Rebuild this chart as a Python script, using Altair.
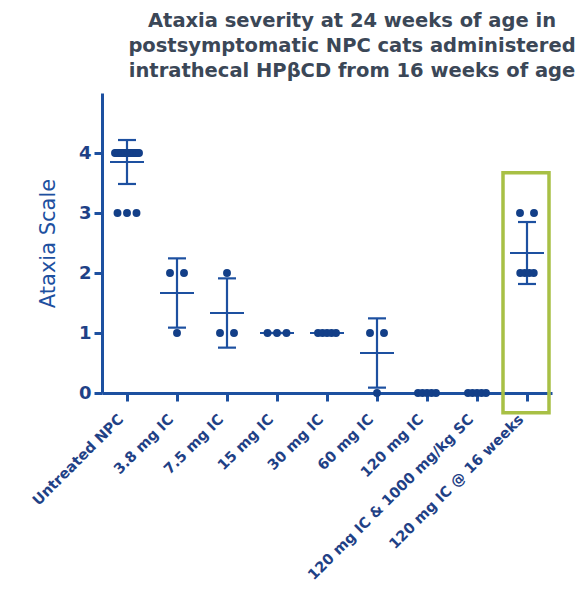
import altair as alt
import numpy as np
import pandas as pd

# Treatment groups (x axis, in order)
groups = [
    "Untreated NPC",
    "3.8 mg IC",
    "7.5 mg IC",
    "15 mg IC",
    "30 mg IC",
    "60 mg IC",
    "120 mg IC",
    "120 mg IC & 1000 mg/kg SC",
    "120 mg IC @ 16 weeks",
]

# Individual ataxia scores per cat, one list per group
scores = [
    [4] * 17 + [3] * 3,
    [2, 2, 1],
    [2, 1, 1],
    [1, 1, 1],
    [1, 1, 1, 1, 1],
    [1, 1, 0],
    [0, 0, 0, 0, 0],
    [0, 0, 0, 0, 0],
    [3, 3, 2, 2, 2, 2],
]

highlight_group = "120 mg IC @ 16 weeks"

BLUE = "#1d50a0"
LABEL = "#1f4186"
DOT = "#133f88"
GREEN = "#a8c045"
TITLE = "#3b4757"
FONT = "DejaVu Sans"

PX_PER_UNIT = 50.0  # plot width / number of groups


def spread(k):
    """Horizontal spread (px) of k coincident dots."""
    if k <= 1:
        return 0.0
    if k == 2:
        return 14.0
    if k == 3:
        return 19.0
    return min(4.5 * (k - 1), 24.0)


# Dots, spread sideways where scores coincide
dot_rows = []
for i, (g, vals) in enumerate(zip(groups, scores)):
    for v in sorted(set(vals), reverse=True):
        k = vals.count(v)
        w = spread(k)
        offs = np.linspace(-w / 2, w / 2, k) if k > 1 else [0.0]
        for o in offs:
            dot_rows.append({"group": g, "pos": i + o / PX_PER_UNIT, "score": v})
dots = pd.DataFrame(dot_rows)

# Mean and SD per group
stat_rows = []
for i, (g, vals) in enumerate(zip(groups, scores)):
    a = np.array(vals, dtype=float)
    m = a.mean()
    sd = a.std(ddof=1)
    stat_rows.append({
        "group": g, "idx": i, "mean": m, "lo": m - sd, "hi": m + sd,
        "m_l": i - 0.34, "m_r": i + 0.34, "c_l": i - 0.18, "c_r": i + 0.18,
    })
stats = pd.DataFrame(stat_rows)

hi_idx = groups.index(highlight_group)
box = pd.DataFrame([{"x1": hi_idx - 0.48, "x2": hi_idx + 0.44, "y1": -0.33, "y2": 3.67}])

label_expr = "[" + ",".join("'" + g.replace("'", "\\'") + "'" for g in groups) + "][datum.value]"

x_scale = alt.Scale(domain=[-0.5, len(groups) - 0.5], nice=False, zero=False)
y_scale = alt.Scale(domain=[0, 5], nice=False)

x_axis = alt.Axis(
    values=list(range(len(groups))),
    labelExpr=label_expr,
    labelAngle=-45,
    labelAlign="right",
    labelBaseline="middle",
    labelFont=FONT,
    labelFontWeight="bold",
    labelFontSize=14.5,
    labelColor=LABEL,
    labelPadding=16,
    labelOffset=-6,
    labelOverlap=False,
    labelBound=False,
    labelFlush=False,
    labelLimit=0,
    domainColor=BLUE,
    domainWidth=3,
    tickColor=BLUE,
    tickWidth=3,
    tickSize=8,
    grid=False,
    title=None,
)

y_axis = alt.Axis(
    values=[0, 1, 2, 3, 4],
    format="d",
    labelFont=FONT,
    labelFontWeight="bold",
    labelFontSize=18,
    labelColor=LABEL,
    labelPadding=3,
    domainColor=BLUE,
    domainWidth=3,
    tickColor=BLUE,
    tickWidth=3,
    tickSize=8,
    grid=False,
    title="Ataxia Scale",
    titleFont=FONT,
    titleFontSize=21,
    titleFontWeight="normal",
    titleColor=BLUE,
    titleX=-54,
    titleY=150,
    titleAngle=-90,
    titleAlign="center",
    titleBaseline="middle",
)

base_axes = alt.Chart(dots).mark_point(opacity=0).encode(
    x=alt.X("pos:Q", scale=x_scale, axis=x_axis),
    y=alt.Y("score:Q", scale=y_scale, axis=y_axis),
)

highlight = alt.Chart(box).mark_rect(
    fill=None, fillOpacity=0, stroke=GREEN, strokeWidth=3.5
).encode(
    x=alt.X("x1:Q", scale=x_scale), x2="x2:Q",
    y=alt.Y("y1:Q", scale=y_scale), y2="y2:Q",
)

sd_bar = alt.Chart(stats).mark_rule(color=BLUE, strokeWidth=2.2).encode(
    x=alt.X("idx:Q", scale=x_scale),
    y=alt.Y("lo:Q", scale=y_scale), y2="hi:Q",
)
cap_hi = alt.Chart(stats).mark_rule(color=BLUE, strokeWidth=2.2).encode(
    x=alt.X("c_l:Q", scale=x_scale), x2="c_r:Q",
    y=alt.Y("hi:Q", scale=y_scale),
)
cap_lo = alt.Chart(stats).mark_rule(color=BLUE, strokeWidth=2.2).encode(
    x=alt.X("c_l:Q", scale=x_scale), x2="c_r:Q",
    y=alt.Y("lo:Q", scale=y_scale),
)
mean_line = alt.Chart(stats).mark_rule(color=BLUE, strokeWidth=2.2).encode(
    x=alt.X("m_l:Q", scale=x_scale), x2="m_r:Q",
    y=alt.Y("mean:Q", scale=y_scale),
)

points = alt.Chart(dots).mark_circle(color=DOT, opacity=1, size=62).encode(
    x=alt.X("pos:Q", scale=x_scale),
    y=alt.Y("score:Q", scale=y_scale),
)

chart = alt.layer(
    base_axes, highlight, sd_bar, cap_hi, cap_lo, mean_line, points
).properties(
    width=450,
    height=300,
    background="white",
    autosize=alt.AutoSizeParams(type="none"),
    padding={"left": 102, "top": 93, "right": 32, "bottom": 197},
    title=alt.TitleParams(
        text=[
            "Ataxia severity at 24 weeks of age in",
            "postsymptomatic NPC cats administered",
            "intrathecal HPβCD from 16 weeks of age",
        ],
        font=FONT,
        fontSize=19.5,
        fontWeight="bold",
        color=TITLE,
        lineHeight=25,
        anchor="middle",
        frame="group",
        dx=25,
        offset=12,
    ),
).configure_view(stroke=None)

chart.save("out.html", embed_options={"renderer": "svg", "actions": False})
